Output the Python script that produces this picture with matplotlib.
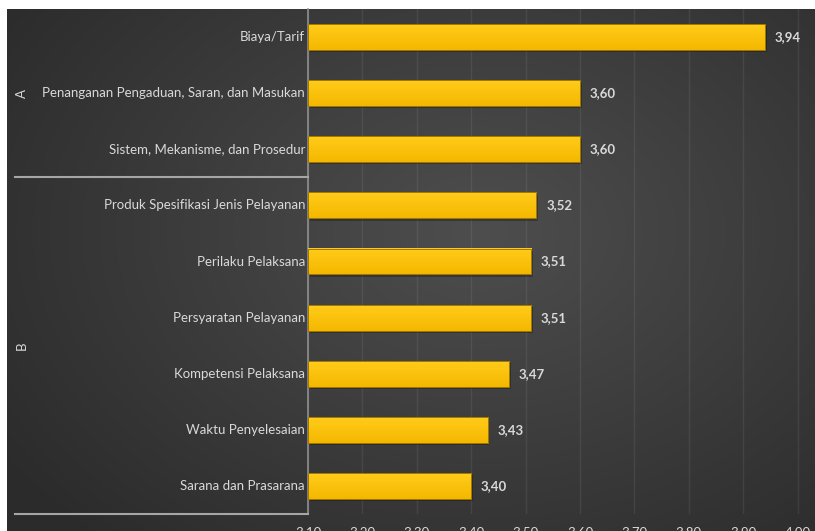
import numpy as np
import matplotlib
matplotlib.use("Agg")
import matplotlib.pyplot as plt
from matplotlib.lines import Line2D
import matplotlib.transforms as mtrans

categories = ["Biaya/Tarif",
              "Penanganan Pengaduan, Saran, dan Masukan",
              "Sistem, Mekanisme, dan Prosedur",
              "Produk Spesifikasi Jenis Pelayanan",
              "Perilaku Pelaksana",
              "Persyaratan Pelayanan",
              "Kompetensi Pelaksana",
              "Waktu Penyelesaian",
              "Sarana dan Prasarana"]
values = [3.94, 3.60, 3.60, 3.52, 3.51, 3.51, 3.47, 3.43, 3.40]
groups = ["A", "B"]
group_sizes = [3, 6]
xticks = [3.10, 3.20, 3.30, 3.40, 3.50, 3.60, 3.70, 3.80, 3.90, 4.00]

W, H = 815, 531
fig = plt.figure(figsize=(W / 100, H / 100), dpi=100)
fig.patch.set_facecolor("white")

# background panel with radial gradient
bg = fig.add_axes([7 / W, 0, 1 - 7 / W, 1 - 9 / H])
bg.set_axis_off()
yy, xx = np.mgrid[0:200, 0:300]
cx, cy = 175, 85
r = np.sqrt(((xx - cx) / 300) ** 2 + ((yy - cy) / 200) ** 2 * 0.8)
v = 0.305 - 0.19 * r
v = np.clip(v, 0.17, 0.305)
img = np.dstack([v, v, v])
bg.imshow(img, extent=[0, 1, 0, 1], aspect="auto", interpolation="bicubic")
bg.set_xlim(0, 1)
bg.set_ylim(0, 1)

font = "Lato"
txtc = "#d9d9d9"
fs = 9.5

ax_left = 308 / W
ax_bottom = (H - 514) / H
ax_top = (H - 9) / H
ax = fig.add_axes([ax_left, ax_bottom, 1 - ax_left, ax_top - ax_bottom])
ax.patch.set_alpha(0)
n = len(categories)
ypos = np.arange(n)
bars = ax.barh(ypos, [v_ - 3.10 for v_ in values], left=3.10, height=0.46,
               color="#FFC400", edgecolor="#9a7400", linewidth=0.6, zorder=3)

# gradient on bars
grad = np.linspace(0, 1, 50).reshape(-1, 1)
top = np.array([1.0, 0.80, 0.10])
bot = np.array([0.96, 0.72, 0.0])
gimg = top[None, None, :] * (1 - grad[:, :, None]) + bot[None, None, :] * grad[:, :, None]
for b in bars:
    x0, y0 = b.get_x(), b.get_y()
    w, h = b.get_width(), b.get_height()
    ax.add_patch(plt.Rectangle((x0 + 0.003, y0 + 0.04), w, h, color="black",
                               alpha=0.25, zorder=2, linewidth=0))
    ax.imshow(gimg, extent=[x0, x0 + w, y0 + h, y0], aspect="auto", zorder=3.5,
              interpolation="bilinear")
    ax.add_patch(plt.Rectangle((x0, y0), w, h, fill=False, edgecolor="#a07800",
                               linewidth=0.7, zorder=3.6))
ax.set_aspect("auto")
ax.set_xlim(3.10, 3.10 + (W - 308) / 544)
ax.set_ylim(n - 0.5, -0.5)

for yi, v_ in zip(ypos, values):
    ax.text(v_ + 0.018, yi, f"{v_:.2f}".replace(".", ","), va="center", ha="left",
            color=txtc, fontsize=fs, fontfamily=font, fontweight="bold", zorder=5)

ax.set_xticks(xticks)
ax.set_xticklabels([f"{t:.2f}".replace(".", ",") for t in xticks],
                   color=txtc, fontsize=fs, fontfamily=font)
ax.tick_params(axis="x", length=0, pad=8.5)
ax.set_yticks([])
ax.grid(axis="x", color="white", alpha=0.07, linewidth=1.0, zorder=0)
for s in ["top", "right", "bottom"]:
    ax.spines[s].set_visible(False)
ax.spines["left"].set_color("#8f8f8f")
ax.spines["left"].set_linewidth(1.2)

# category labels
for yi, c in zip(ypos, categories):
    ax.annotate(c, xy=(0, yi), xycoords=("axes fraction", "data"),
                xytext=(-3, 0), textcoords="offset pixels",
                ha="right", va="center", color=txtc, fontsize=fs, fontfamily=font,
                annotation_clip=False)

# group labels and separators
blend = mtrans.blended_transform_factory(fig.transFigure, ax.transData)
start = 0
for g, sz in zip(groups, group_sizes):
    mid = start + (sz - 1) / 2
    ax.annotate(g, xy=(22 / W, mid), xycoords=("figure fraction", "data"),
                ha="center", va="center", rotation=90, color=txtc, fontsize=fs,
                fontfamily=font, annotation_clip=False)
    yline = start + sz - 0.5
    ax.add_line(Line2D([15 / W, ax_left], [yline, yline], transform=blend,
                       color="#a6a6a6", linewidth=1.5, clip_on=False, zorder=6))
    start += sz

fig.savefig("out.png", dpi=100)
